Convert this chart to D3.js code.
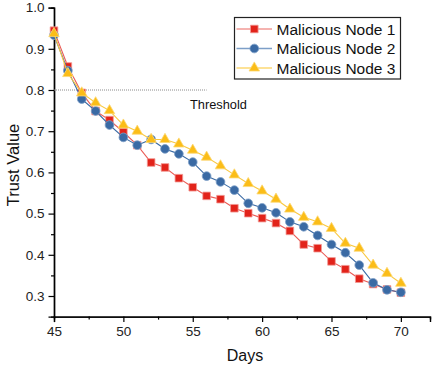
<!DOCTYPE html>
<html>
<head>
<meta charset="utf-8">
<script src="https://cdn.jsdelivr.net/npm/d3@7"></script>
<style>
  body { margin: 0; background: #fff; }
  svg { display: block; font-family: "Liberation Sans", Arial, sans-serif; }
</style>
</head>
<body>
<div id="chart"></div>
<script>
const days = [45, 46, 47, 48, 49, 50, 51, 52, 53, 54, 55, 56, 57, 58, 59, 60, 61, 62, 63, 64, 65, 66, 67, 68, 69, 70];
const node1 = [0.944, 0.857, 0.793, 0.749, 0.727, 0.698, 0.666, 0.624, 0.612, 0.586, 0.564, 0.543, 0.535,
  0.513, 0.501, 0.489, 0.477, 0.458, 0.425, 0.416, 0.384, 0.365, 0.342, 0.329, 0.316, 0.308];
const node2 = [0.933, 0.847, 0.778, 0.749, 0.715, 0.685, 0.666, 0.680, 0.657, 0.645, 0.625, 0.591, 0.577,
  0.557, 0.525, 0.514, 0.502, 0.480, 0.468, 0.447, 0.425, 0.405, 0.375, 0.332, 0.315, 0.309];
const node3 = [0.937, 0.840, 0.793, 0.769, 0.750, 0.715, 0.700, 0.680, 0.680, 0.669, 0.654, 0.637, 0.616,
  0.594, 0.573, 0.555, 0.535, 0.511, 0.491, 0.480, 0.464, 0.428, 0.416, 0.375, 0.355, 0.331];
const seriesNames = ['Malicious Node 1', 'Malicious Node 2', 'Malicious Node 3'];
const xTicks = [45, 50, 55, 60, 65, 70];
const yTicks = [0.3, 0.4, 0.5, 0.6, 0.7, 0.8, 0.9, 1.0];
const threshold = 0.8;
const thresholdDays = [45, 56];

const width = 433, height = 368;
const margin = { top: 7.6, right: 3, bottom: 51.4, left: 54 };

const svg = d3.select('#chart').append('svg')
  .attr('width', width)
  .attr('height', height);

const x = d3.scaleLinear().domain([45, 72.1]).range([margin.left, width - margin.right]);
const y = d3.scaleLinear().domain([0.25, 1.0]).range([height - margin.bottom, margin.top]);

// axes
const xMinor = xTicks.map(d => d + 2.5).filter(d => d < 72.1);
const yMinor = yTicks.map(d => d - 0.05).filter(d => d > 0.25);

const gx = svg.append('g').attr('transform', `translate(0,${y(0.25)})`);
gx.call(d3.axisBottom(x).tickValues(xMinor).tickSize(3).tickFormat(''));
gx.call(g => g.append('g').call(d3.axisBottom(x).tickValues(xTicks).tickSize(5.5).tickPadding(4).tickFormat(d3.format('d'))));

const gy = svg.append('g').attr('transform', `translate(${x(45)},0)`);
gy.call(d3.axisLeft(y).tickValues(yMinor).tickSize(3).tickFormat(''));
gy.call(g => g.append('g').call(d3.axisLeft(y).tickValues(yTicks).tickSize(5.5).tickPadding(4).tickFormat(d3.format('.1f'))));

svg.selectAll('.domain').attr('stroke', '#000').attr('stroke-width', 1.4);
svg.selectAll('.tick line').attr('stroke', '#000').attr('stroke-width', 1.2);
svg.selectAll('.tick text')
  .attr('font-size', '13.5px')
  .attr('fill', '#222')
  .attr('font-family', '"Liberation Sans", Arial, sans-serif');

// axis titles
svg.append('text')
  .attr('x', 245).attr('y', 361)
  .attr('text-anchor', 'middle')
  .attr('font-size', '16px')
  .attr('fill', '#111')
  .text('Days');

svg.append('text')
  .attr('transform', `translate(19,${165}) rotate(-90)`)
  .attr('text-anchor', 'middle')
  .attr('font-size', '16.5px')
  .attr('fill', '#111')
  .text('Trust Value');

// threshold
svg.append('line')
  .attr('x1', x(thresholdDays[0])).attr('x2', x(thresholdDays[1]))
  .attr('y1', y(threshold)).attr('y2', y(threshold))
  .attr('stroke', '#8a8a8a')
  .attr('stroke-width', 1)
  .attr('stroke-dasharray', '1,1');

svg.append('text')
  .attr('x', 190).attr('y', 109)
  .attr('font-size', '12.8px')
  .attr('fill', '#111')
  .text('Threshold');

// series
const series = [
  { name: seriesNames[0], values: node1, fill: '#e2231a', line: '#ea5b55', edge: '#f29a96', symbol: d3.symbolSquare, size: 58 },
  { name: seriesNames[1], values: node2, fill: '#3a6aa4', line: '#3a6aa4', edge: '#7d9fc8', symbol: d3.symbolCircle, size: 60 },
  { name: seriesNames[2], values: node3, fill: '#fbbd18', line: '#f9c840', edge: '#fcd873', symbol: d3.symbolTriangle, size: 48 }
];

const line = d3.line()
  .x((d, i) => x(days[i]))
  .y(d => y(d));

series.forEach(s => {
  const g = svg.append('g');
  g.append('path')
    .datum(s.values)
    .attr('fill', 'none')
    .attr('stroke', s.line)
    .attr('stroke-width', 1.1)
    .attr('d', line);
  g.selectAll('path.mark')
    .data(s.values)
    .enter()
    .append('path')
    .attr('class', 'mark')
    .attr('transform', (d, i) => `translate(${x(days[i])},${y(d)})`)
    .attr('d', d3.symbol().type(s.symbol).size(s.size))
    .attr('fill', s.fill)
    .attr('stroke', s.edge)
    .attr('stroke-width', 0.8);
});

// legend
const legend = svg.append('g');
legend.append('rect')
  .attr('x', 234.5).attr('y', 17.5)
  .attr('width', 166).attr('height', 61.5)
  .attr('fill', '#fff')
  .attr('stroke', '#222')
  .attr('stroke-width', 1.2);

series.forEach((s, i) => {
  const ly = 29 + i * 19.5;
  legend.append('line')
    .attr('x1', 236.5).attr('x2', 272)
    .attr('y1', ly).attr('y2', ly)
    .attr('stroke', s.edge)
    .attr('stroke-width', 1.6);
  legend.append('path')
    .attr('transform', `translate(254.3,${ly})`)
    .attr('d', d3.symbol().type(s.symbol).size(s.size))
    .attr('fill', s.fill)
    .attr('stroke', s.edge)
    .attr('stroke-width', 0.8);
  legend.append('text')
    .attr('x', 276.5).attr('y', ly + 5.5)
    .attr('font-size', '15.5px')
    .attr('fill', '#111')
    .text(s.name);
});
</script>
</body>
</html>
